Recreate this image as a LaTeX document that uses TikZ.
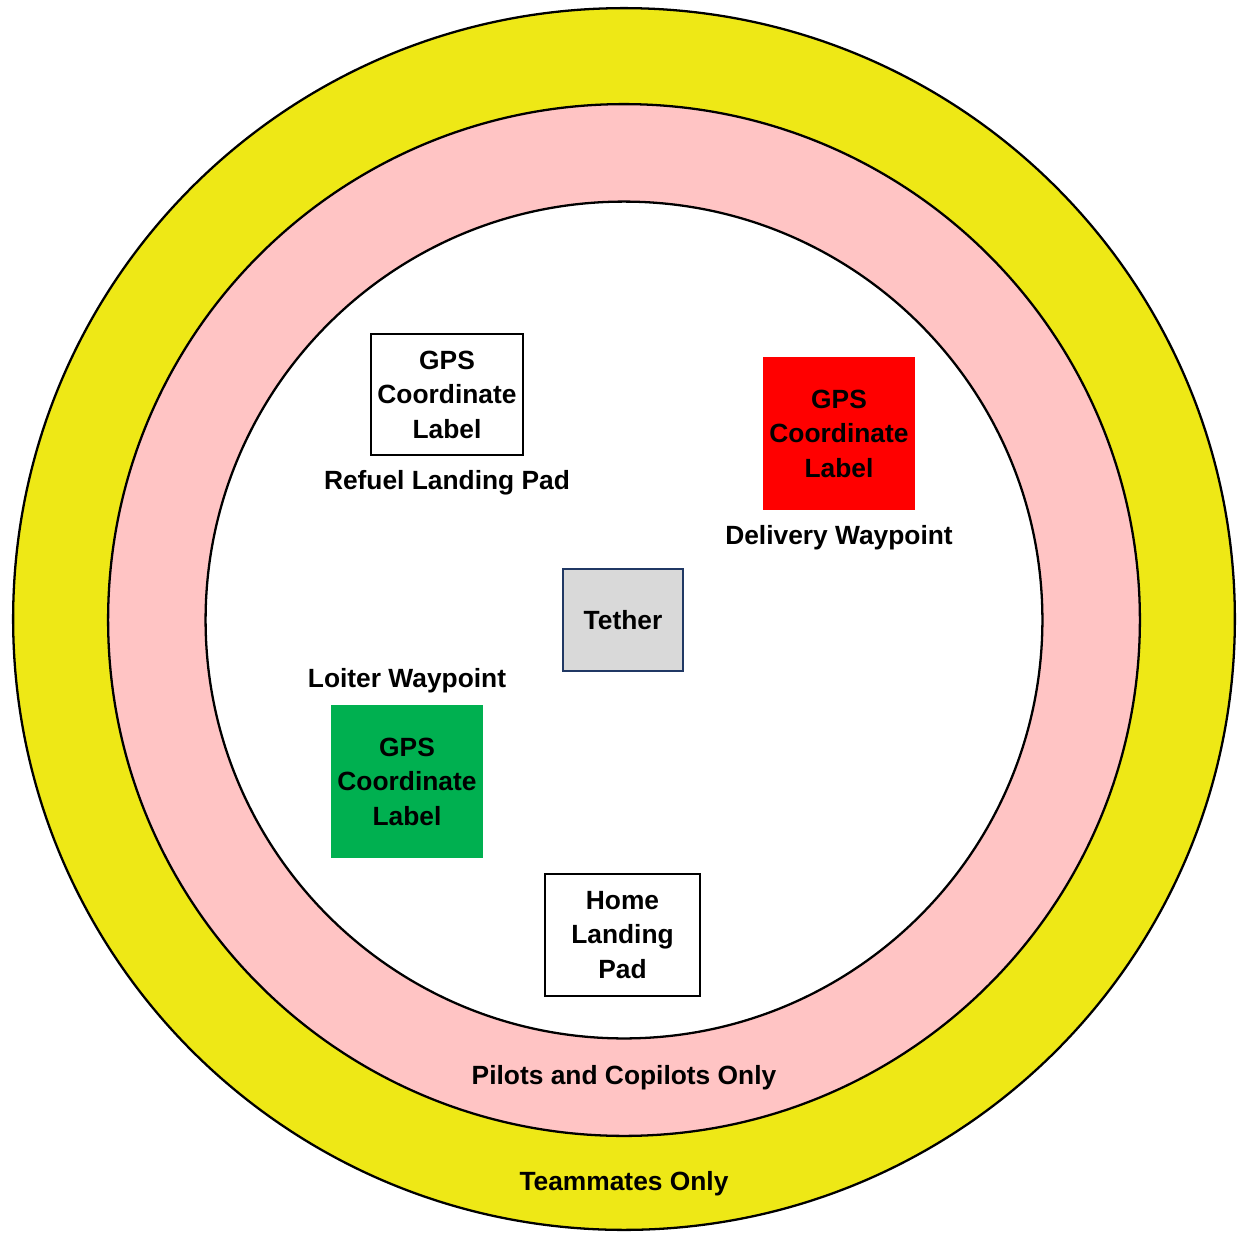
\documentclass[tikz,border=0pt]{standalone}
\usepackage{fontspec}
\setmainfont{Liberation Sans}
\definecolor{zoneyellow}{RGB}{238,232,22}
\definecolor{zonepink}{RGB}{255,196,196}
\definecolor{padgreen}{RGB}{0,176,80}
\definecolor{tethergray}{RGB}{217,217,217}
\definecolor{tethernavy}{RGB}{32,56,100}
\tikzset{%
  % Specifications for style of nodes:
         base/.style = {rectangle, inner sep=0pt, align=center,
                        font=\bfseries\fontsize{15}{19.6}\selectfont},
       padbox/.style = {base, draw=black, line width=1.6pt, fill=white},
   waypointbox/.style = {base, minimum width=3.05cm, minimum height=3.06cm},
    tagtext/.style = {base},
}
\begin{document}
\begin{tikzpicture}[x=0.02cm, y=-0.02cm]
  \useasboundingbox (0,0) rectangle (1238,1232);
  % Zones (rings)
  \draw[line width=1.3pt, fill=zoneyellow] (624,619) circle[radius=12.22cm];
  \draw[line width=1.3pt, fill=zonepink]   (624,620) circle[radius=10.32cm];
  \draw[line width=1.3pt, fill=white]      (624,620) circle[radius=8.37cm];
  % Specification of nodes (position, etc.)
  \node (refuel)   [padbox, minimum width=3.04cm, minimum height=2.42cm]
                   at (447,394.5) {GPS\\Coordinate\\Label};
  \node (refuelTag)   [tagtext] at (447,483) {Refuel Landing Pad};
  \node (delivery) [waypointbox, fill=red] at (839,433.5) {GPS\\Coordinate\\Label};
  \node (deliveryTag) [tagtext] at (839,538) {Delivery Waypoint};
  \node (tether)   [base, draw=tethernavy, line width=1.6pt, fill=tethergray,
                   minimum width=2.4cm, minimum height=2.04cm] at (623,620) {Tether};
  \node (loiterTag)   [tagtext] at (407,681) {Loiter Waypoint};
  \node (loiter)   [waypointbox, fill=padgreen] at (407,781.5) {GPS\\Coordinate\\Label};
  \node (home)     [padbox, minimum width=3.1cm, minimum height=2.44cm]
                   at (622.5,935) {Home\\Landing\\Pad};
  \node (pilots)      [tagtext] at (624,1078) {Pilots and Copilots Only};
  \node (teammates)   [tagtext] at (624,1184) {Teammates Only};
\end{tikzpicture}
\end{document}
